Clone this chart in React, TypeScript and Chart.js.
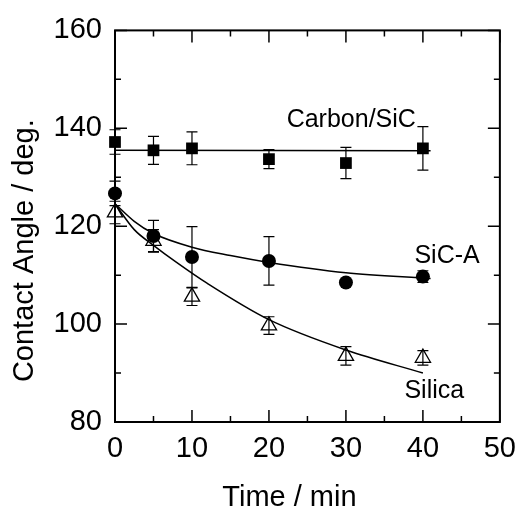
import React, { useEffect, useRef } from "react";
import { Chart, registerables } from "chart.js";

Chart.register(...registerables);

// ---- Data ----
const times = [0, 5, 10, 20, 30, 40];

const carbonSiC = [137.2, 135.5, 135.9, 133.7, 132.9, 135.9];
const carbonSiCErr = [2.5, 2.85, 3.35, 1.95, 3.2, 4.45];

const sicA = [126.7, 118.0, 113.7, 112.9, 108.5, 109.7];
const sicAErr = [2.5, 3.2, 6.2, 4.95, 0.5, 1.2];

const silica = [122.8, 117.0, 105.6, 99.7, 93.5, 93.1];
const silicaErr = [2.3, 2.3, 1.8, 1.8, 1.9, 1.5];

// fitted curves
const carbonFitX = [0, 41];
const carbonFitY = [135.5, 135.4];

const sicAFitX = [0, 2.5, 5, 10, 15, 20, 30, 41];
const sicAFitY = [124.6, 121.0, 118.5, 115.7, 114.0, 112.6, 110.5, 109.3];

const silicaFitX = [0, 2.5, 5, 8, 12, 20, 30, 40];
const silicaFitY = [124.6, 119.3, 116.1, 112.6, 108.3, 100.9, 94.7, 90.0];

// axis ticks
const xMajorTicks = [0, 10, 20, 30, 40, 50];
const xMinorTicks = [5, 15, 25, 35, 45];
const yMajorTicks = [80, 100, 120, 140, 160];
const yMinorTicks = [90, 110, 130, 150];

// in-plot labels: text, x (min), y (deg, baseline)
const seriesLabels = ["Carbon/SiC", "SiC-A", "Silica"];
const seriesLabelX = [22.3, 38.9, 37.6];
const seriesLabelY = [140.3, 112.5, 85.0];

const xTitle = "Time / min";
const yTitle = "Contact Angle / deg.";

const FONT = "'Liberation Sans', Arial, Helvetica, sans-serif";

export default function App() {
  const ref = useRef<HTMLCanvasElement | null>(null);

  useEffect(() => {
    const canvas = ref.current;
    if (!canvas) return;

    const pts = (xs: number[], ys: number[]) => xs.map((x, i) => ({ x, y: ys[i] }));

    const errorSeries = [
      { values: carbonSiC, errs: carbonSiCErr },
      { values: sicA, errs: sicAErr },
      { values: silica, errs: silicaErr },
    ];

    const errorPlugin = {
      id: "errorBars",
      beforeDatasetsDraw(chart: any) {
        const { ctx } = chart;
        const xs = chart.scales.x;
        const ys = chart.scales.y;
        ctx.save();
        ctx.strokeStyle = "#000";
        ctx.lineWidth = 1.2;
        const cap = 5.5;
        errorSeries.forEach((s) => {
          times.forEach((t, i) => {
            const px = xs.getPixelForValue(t);
            const top = ys.getPixelForValue(s.values[i] + s.errs[i]);
            const bot = ys.getPixelForValue(s.values[i] - s.errs[i]);
            ctx.beginPath();
            ctx.moveTo(px, top);
            ctx.lineTo(px, bot);
            ctx.moveTo(px - cap, top);
            ctx.lineTo(px + cap, top);
            ctx.moveTo(px - cap, bot);
            ctx.lineTo(px + cap, bot);
            ctx.stroke();
          });
        });
        ctx.restore();
      },
    };

    const framePlugin = {
      id: "frameTicks",
      afterDraw(chart: any) {
        const { ctx, chartArea: a } = chart;
        const xs = chart.scales.x;
        const ys = chart.scales.y;
        ctx.save();
        ctx.strokeStyle = "#000";
        ctx.lineWidth = 1.5;
        ctx.beginPath();
        const major = 12;
        const minor = 6;
        xMajorTicks.forEach((v) => {
          const p = xs.getPixelForValue(v);
          ctx.moveTo(p, a.bottom);
          ctx.lineTo(p, a.bottom - major);
          ctx.moveTo(p, a.top);
          ctx.lineTo(p, a.top + major);
        });
        xMinorTicks.forEach((v) => {
          const p = xs.getPixelForValue(v);
          ctx.moveTo(p, a.bottom);
          ctx.lineTo(p, a.bottom - minor);
          ctx.moveTo(p, a.top);
          ctx.lineTo(p, a.top + minor);
        });
        yMajorTicks.forEach((v) => {
          const p = ys.getPixelForValue(v);
          ctx.moveTo(a.left, p);
          ctx.lineTo(a.left + major, p);
          ctx.moveTo(a.right, p);
          ctx.lineTo(a.right - major, p);
        });
        yMinorTicks.forEach((v) => {
          const p = ys.getPixelForValue(v);
          ctx.moveTo(a.left, p);
          ctx.lineTo(a.left + minor, p);
          ctx.moveTo(a.right, p);
          ctx.lineTo(a.right - minor, p);
        });
        ctx.stroke();
        ctx.lineWidth = 2;
        ctx.strokeRect(a.left, a.top, a.right - a.left, a.bottom - a.top);

        // in-plot labels
        ctx.fillStyle = "#000";
        ctx.font = `25px ${FONT}`;
        ctx.textAlign = "left";
        ctx.textBaseline = "alphabetic";
        seriesLabels.forEach((txt, i) => {
          ctx.fillText(txt, xs.getPixelForValue(seriesLabelX[i]), ys.getPixelForValue(seriesLabelY[i]));
        });

        // axis titles
        ctx.font = `29px ${FONT}`;
        ctx.textAlign = "center";
        const cx = (a.left + a.right) / 2 - 18;
        ctx.fillText(xTitle, cx, chart.height - 1);
        const cy = (a.top + a.bottom) / 2 + 24.5;
        ctx.translate(33, cy);
        ctx.rotate(-Math.PI / 2);
        ctx.fillText(yTitle, 0, 0);
        ctx.restore();
      },
    };

    const lineDs = (xs: number[], ys: number[]) => ({
      data: pts(xs, ys),
      showLine: true,
      borderColor: "#000",
      borderWidth: 1.5,
      pointRadius: 0,
      pointHoverRadius: 0,
      cubicInterpolationMode: "monotone" as const,
      clip: false as const,
    });

    const chart = new Chart(canvas, {
      type: "scatter",
      data: {
        datasets: [
          { label: "Carbon/SiC fit", ...lineDs(carbonFitX, carbonFitY) },
          { label: "SiC-A fit", ...lineDs(sicAFitX, sicAFitY) },
          { label: "Silica fit", ...lineDs(silicaFitX, silicaFitY) },
          {
            label: "Carbon/SiC",
            data: pts(times, carbonSiC),
            showLine: false,
            pointStyle: "rect",
            pointRadius: 8.3,
            pointHoverRadius: 8.3,
            backgroundColor: "#000",
            borderColor: "#000",
            borderWidth: 0,
            clip: false,
          },
          {
            label: "SiC-A",
            data: pts(times, sicA),
            showLine: false,
            pointStyle: "circle",
            pointRadius: 7,
            pointHoverRadius: 7,
            backgroundColor: "#000",
            borderColor: "#000",
            borderWidth: 0,
            clip: false,
          },
          {
            label: "Silica",
            data: pts(times, silica),
            showLine: false,
            pointStyle: "triangle",
            pointRadius: 8.8,
            pointHoverRadius: 8.8,
            backgroundColor: "rgba(0,0,0,0)",
            borderColor: "#000",
            borderWidth: 1.3,
            clip: false,
          },
        ],
      },
      options: {
        responsive: false,
        animation: false,
        devicePixelRatio: 1,
        events: [],
        layout: { padding: { left: 0, right: 18, top: 30, bottom: 0 } },
        plugins: { legend: { display: false }, tooltip: { enabled: false } },
        scales: {
          x: {
            type: "linear",
            min: 0,
            max: 50,
            ticks: {
              stepSize: 10,
              color: "#000",
              padding: 10,
              font: { family: FONT, size: 29 },
            },
            grid: { display: false, drawTicks: false },
            border: { display: false },
            afterFit(s: any) {
              s.height = 85;
            },
          },
          y: {
            type: "linear",
            min: 80,
            max: 160,
            ticks: {
              stepSize: 20,
              color: "#000",
              padding: 13,
              font: { family: FONT, size: 29 },
            },
            grid: { display: false, drawTicks: false },
            border: { display: false },
            afterFit(s: any) {
              s.width = 115;
            },
          },
        },
      },
      plugins: [errorPlugin, framePlugin],
    });

    return () => chart.destroy();
  }, []);

  return (
    <div style={{ position: "absolute", left: 0, top: 0, width: 526, height: 507, background: "#fff" }}>
      <canvas ref={ref} width={526} height={507} style={{ display: "block" }} />
    </div>
  );
}
